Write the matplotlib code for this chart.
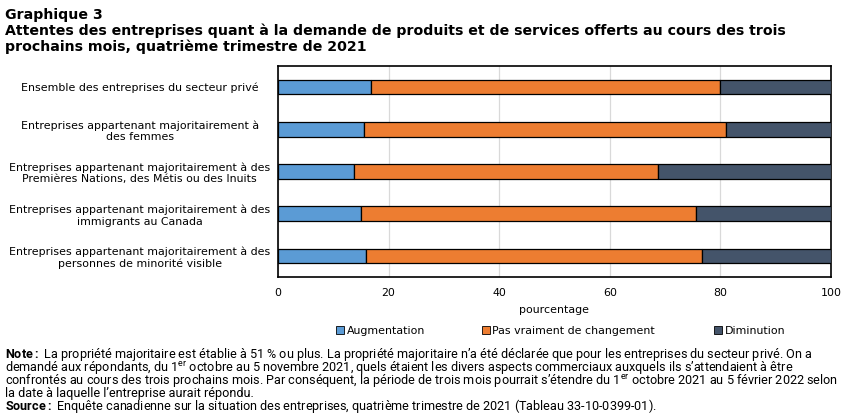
import matplotlib
matplotlib.use("Agg")
import matplotlib.pyplot as plt
from matplotlib.patches import Patch
import numpy as np

# categories, top to bottom
categories = [
    "Ensemble des entreprises du secteur privé",
    "Entreprises appartenant majoritairement à\ndes femmes",
    "Entreprises appartenant majoritairement à des\nPremières Nations, des Métis ou des Inuits",
    "Entreprises appartenant majoritairement à des\nimmigrants au Canada",
    "Entreprises appartenant majoritairement à des\npersonnes de minorité visible",
]
augmentation = [16.8, 15.5, 13.7, 15.0, 15.9]
pas_changement = [63.2, 65.6, 55.0, 60.5, 60.8]
diminution = [20.0, 18.9, 31.3, 24.5, 23.3]

series_names = ["Augmentation", "Pas vraiment de changement", "Diminution"]
series_colors = ["#5B9BD5", "#ED7D31", "#44546A"]
xticks = [0, 20, 40, 60, 80, 100]

body_font = "DejaVu Sans"
note_font = "Roboto"

plt.rcParams["mathtext.fontset"] = "custom"
plt.rcParams["mathtext.rm"] = note_font
plt.rcParams["mathtext.bf"] = note_font + ":bold"

fig = plt.figure(figsize=(8.52, 4.16), dpi=100)
W, H = 852, 416
# axes box in pixels: left 278, right 831, top 66, bottom 277
ax = fig.add_axes([278 / W, 1 - 277 / H, (831 - 278) / W, (277 - 66) / H])

y = np.arange(len(categories))
left = np.zeros(len(categories))
for vals, name, col in zip([augmentation, pas_changement, diminution], series_names, series_colors):
    ax.barh(y, vals, left=left, height=0.35, color=col, edgecolor="black",
            linewidth=0.9, label=name, zorder=3)
    left = left + np.array(vals)

ax.set_xlim(0, 100)
ax.set_ylim(len(categories) - 0.5, -0.5)
ax.set_xticks(xticks)
ax.set_xticklabels([str(t) for t in xticks], fontsize=7.9, family=body_font)
ax.set_yticks(y)
ax.set_yticklabels(categories, fontsize=7.9, family=body_font, ha="center", multialignment="center")
ax.tick_params(axis="y", length=0, pad=0)
ax.tick_params(axis="x", length=0, pad=8)
for lbl in ax.get_yticklabels():
    lbl.set_x(-0.25)
ax.xaxis.grid(True, color="#D9D9D9", linewidth=0.9, zorder=0)
for s in ax.spines.values():
    s.set_color("black")
    s.set_linewidth(1.2)
ax.set_xlabel("pourcentage", fontsize=7.9, family=body_font, labelpad=5)

# legend, one entry per anchor like the source layout
legend_x = [336, 482, 714]
for name, col, lx in zip(series_names, series_colors, legend_x):
    fig.legend([Patch(facecolor=col, edgecolor="black", linewidth=0.6)], [name],
               loc="center left", bbox_to_anchor=(lx / W, 1 - 331 / H), frameon=False,
               prop={"family": body_font, "size": 7.9}, borderpad=0, borderaxespad=0,
               handlelength=0.7, handleheight=0.7, handletextpad=0.25)

# title
title_lines = [
    "Graphique 3",
    "Attentes des entreprises quant à la demande de produits et de services offerts au cours des trois",
    "prochains mois, quatrième trimestre de 2021",
]
for i, line in enumerate(title_lines):
    fig.text(5 / W, 1 - (19 + 16 * i) / H, line, fontsize=10.2, fontweight="bold",
             family=body_font, va="baseline", ha="left")

# note and source
note_lines = [
    r"$\bf{Note :}$ La propriété majoritaire est établie à 51 % ou plus. La propriété majoritaire n’a été déclarée que pour les entreprises du secteur privé. On a",
    r"demandé aux répondants, du 1$^{\rm er}$ octobre au 5 novembre 2021, quels étaient les divers aspects commerciaux auxquels ils s’attendaient à être",
    r"confrontés au cours des trois prochains mois. Par conséquent, la période de trois mois pourrait s’étendre du 1$^{\rm er}$ octobre 2021 au 5 février 2022 selon",
    "la date à laquelle l’entreprise aurait répondu.",
    r"$\bf{Source :}$ Enquête canadienne sur la situation des entreprises, quatrième trimestre de 2021 (Tableau 33-10-0399-01).",
]
for i, line in enumerate(note_lines):
    fig.text(5 / W, 1 - (358 + 13 * i) / H, line, fontsize=9.1, family=note_font,
             va="baseline", ha="left")

fig.savefig("out.png", dpi=100)
